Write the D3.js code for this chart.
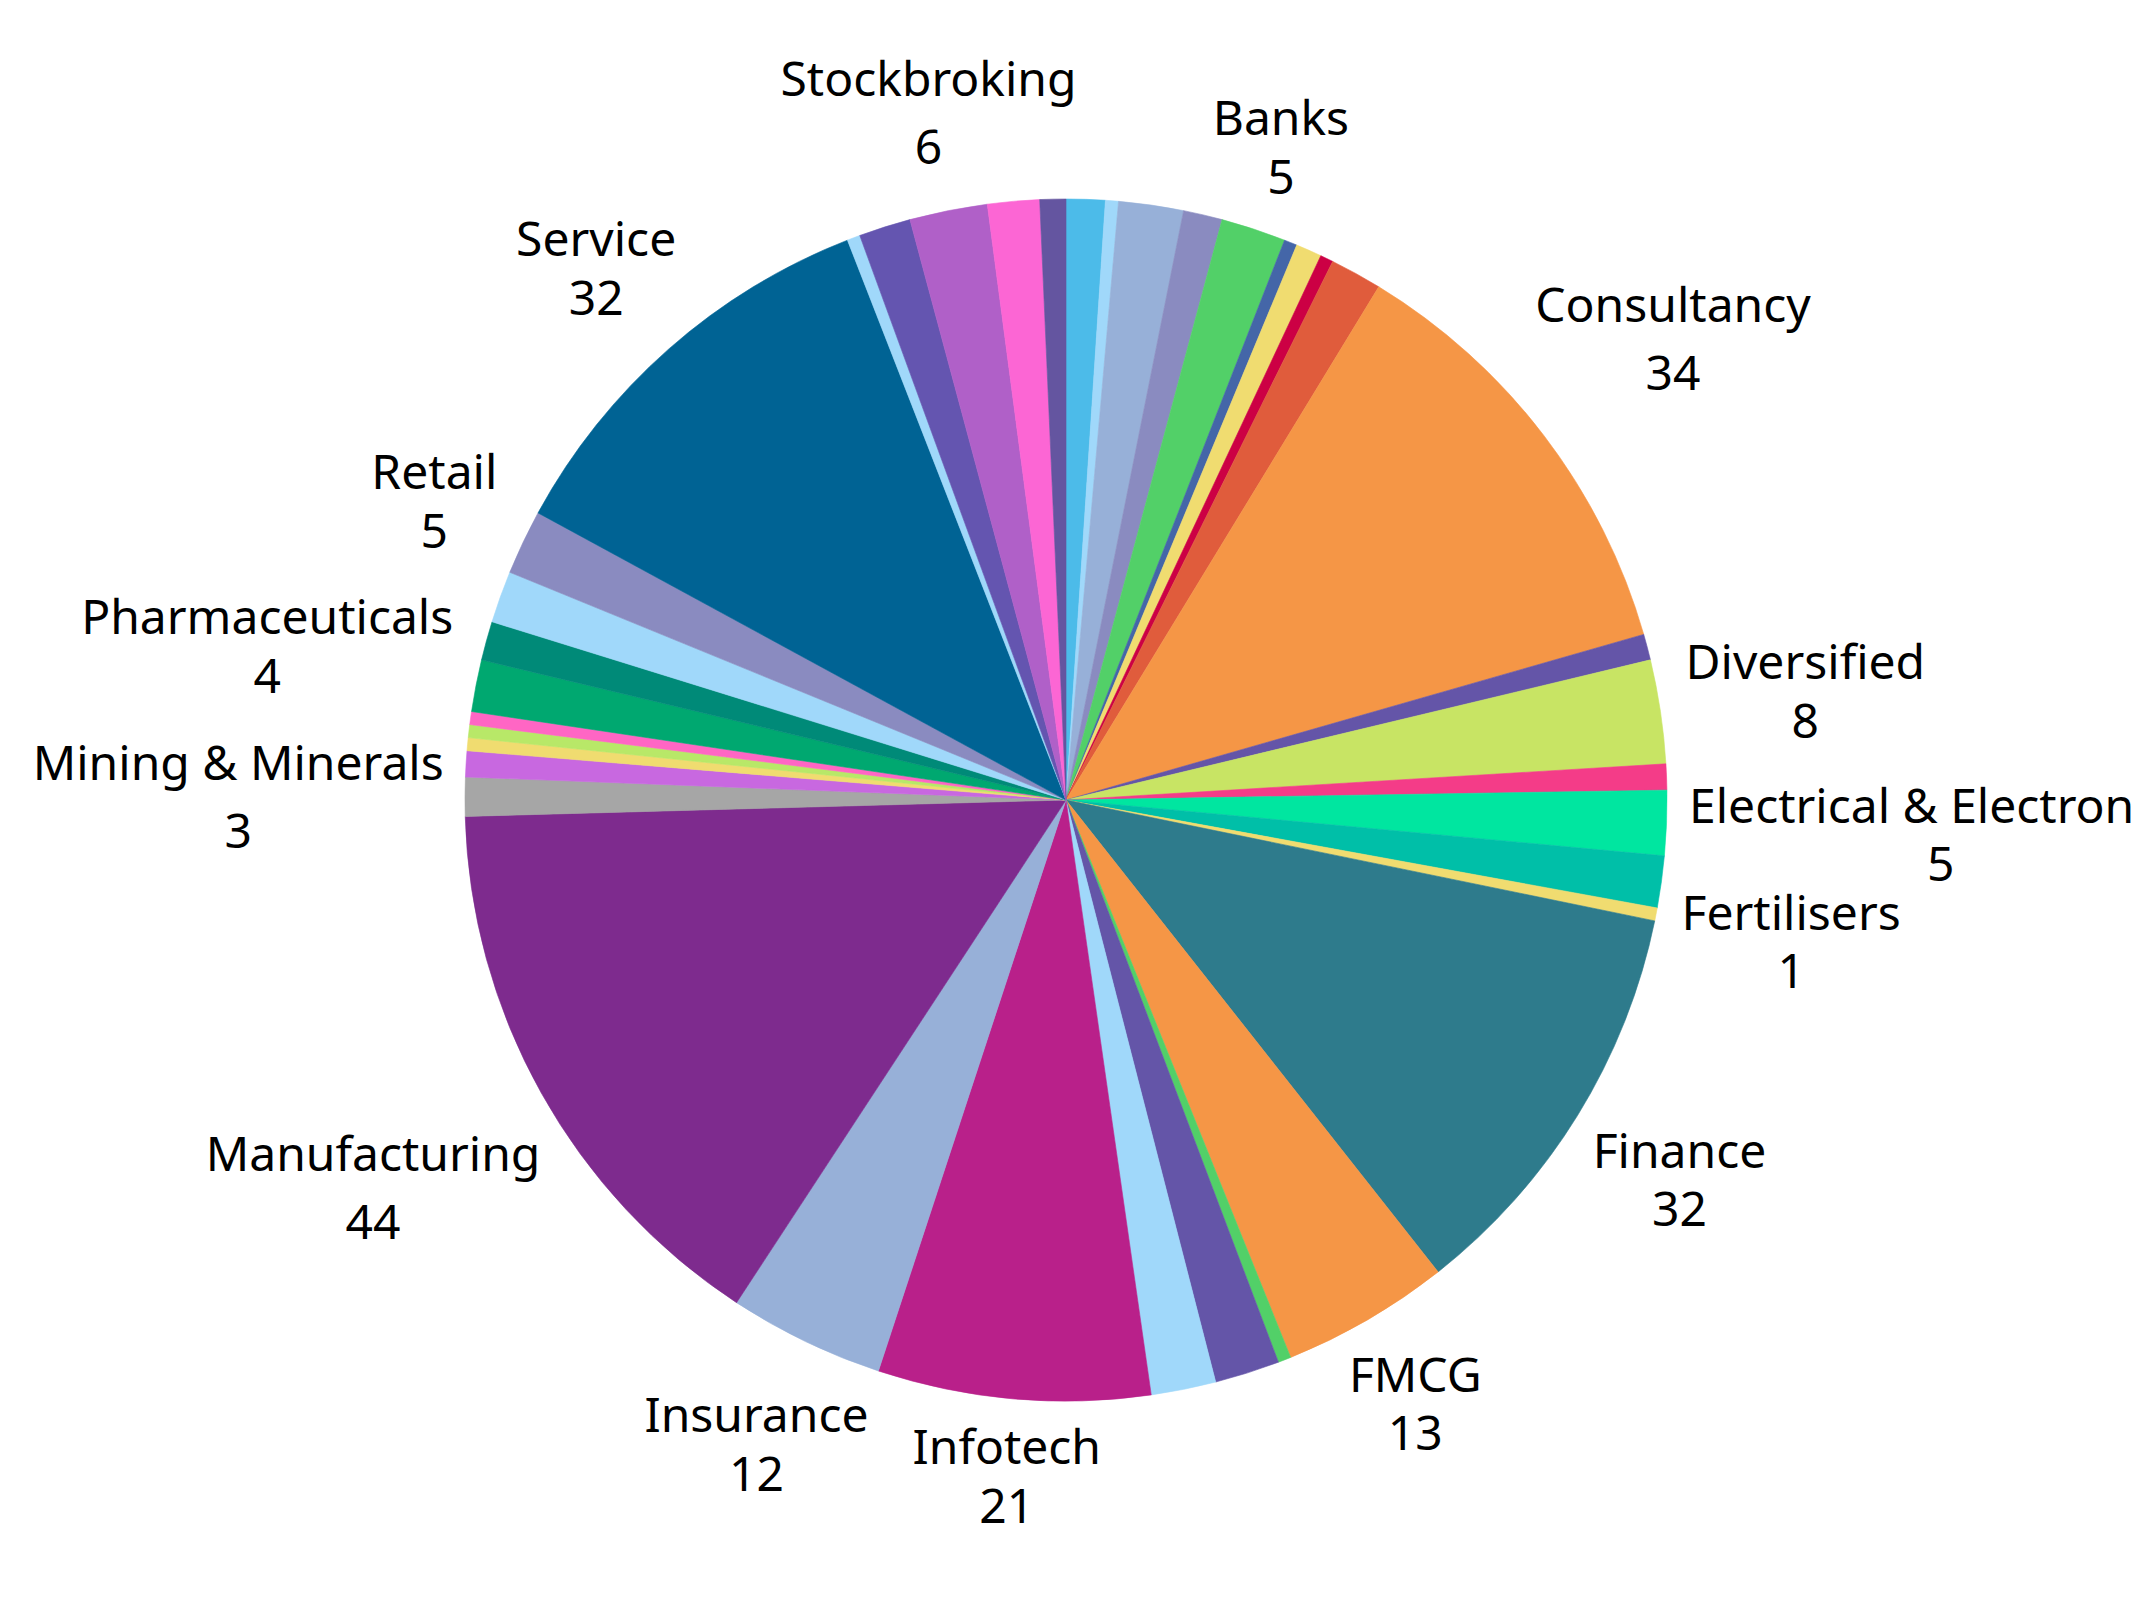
<!DOCTYPE html>
<html>
<head>
<meta charset="utf-8">
<script src="https://cdn.jsdelivr.net/npm/d3@7"></script>
<style>
  html, body { margin: 0; padding: 0; background: #ffffff; }
  svg { display: block; }
</style>
</head>
<body>
<svg id="chart" width="2134" height="1600"></svg>
<script>
// Slices in clockwise order starting at 12 o'clock.
// Slices whose name is not printed in the reference are named "Unlabelled n".
const categories = [
  "Unlabelled 1", "Unlabelled 2", "Unlabelled 3", "Unlabelled 4", "Banks",
  "Unlabelled 5", "Unlabelled 6", "Unlabelled 7", "Unlabelled 8", "Consultancy",
  "Unlabelled 9", "Diversified", "Unlabelled 10", "Electrical & Electronics", "Unlabelled 11",
  "Fertilisers", "Finance", "FMCG", "Unlabelled 12", "Unlabelled 13",
  "Unlabelled 14", "Infotech", "Insurance", "Manufacturing", "Mining & Minerals",
  "Unlabelled 15", "Unlabelled 16", "Unlabelled 17", "Unlabelled 18", "Pharmaceuticals",
  "Unlabelled 19", "Unlabelled 20", "Retail", "Service", "Unlabelled 21",
  "Unlabelled 22", "Stockbroking", "Unlabelled 23", "Unlabelled 24"
];
const values = [
  3, 1, 5, 3, 5,
  1, 2, 1, 4, 34,
  2, 8, 2, 5, 4,
  1, 32, 13, 1, 5,
  5, 21, 12, 44, 3,
  2, 1, 1, 1, 4,
  3, 4, 5, 32, 1,
  4, 6, 4, 2
];
const colors = [
  "#4cbbe9", "#a0d8fa", "#97b0d8", "#8a8bc0", "#52d068",
  "#4466a8", "#f0dc70", "#cc0044", "#e05c3c", "#f59646",
  "#6455a8", "#c8e464", "#f43c88", "#00e6a0", "#00bfa8",
  "#f0dc70", "#2e7b8c", "#f59646", "#52d068", "#6455a8",
  "#a0d8fa", "#b9208a", "#97b0d8", "#7e2b8e", "#a6a6a6",
  "#c868e0", "#f0dc70", "#b8e868", "#ff66c4", "#00a870",
  "#008a78", "#a0d8fa", "#8a8bc0", "#006394", "#a0d8fa",
  "#6455b0", "#b060c8", "#fc66d4", "#6455a0"
];
// Categories whose label is printed in the reference.
const labelledCategories = [
  "Banks", "Consultancy", "Diversified", "Electrical & Electronics", "Fertilisers",
  "Finance", "FMCG", "Infotech", "Insurance", "Manufacturing",
  "Mining & Minerals", "Pharmaceuticals", "Retail", "Service", "Stockbroking"
];
// Labels drawn with a slightly looser line gap in the reference.
const looseLabels = ["Stockbroking", "Consultancy", "Manufacturing", "Mining & Minerals"];

const data = categories.map((c, i) => ({ name: c, value: values[i], color: colors[i] }));

const W = 2134, H = 1600;
const cx = 1066, cy = 800, R = 601;
const fontSize = 48;
const pad = 21;

const svg = d3.select("#chart");
svg.append("rect").attr("width", W).attr("height", H).attr("fill", "#ffffff");

const g = svg.append("g").attr("transform", `translate(${cx},${cy})`);

const pie = d3.pie().sort(null).value(d => d.value).startAngle(0).endAngle(2 * Math.PI);
const arc = d3.arc().innerRadius(0).outerRadius(R);
const arcs = pie(data);

g.selectAll("path.slice")
  .data(arcs)
  .join("path")
  .attr("class", "slice")
  .attr("d", arc)
  .attr("fill", d => d.data.color)
  .attr("stroke", d => d.data.color)
  .attr("stroke-width", 0.6);

const labelled = new Set(labelledCategories);
const loose = new Set(looseLabels);

const labels = g.selectAll("g.label")
  .data(arcs.filter(d => labelled.has(d.data.name)))
  .join("g")
  .attr("class", "label");

labels.each(function(d) {
  const grp = d3.select(this);
  const gap = loose.has(d.data.name) ? 68 : 58.5;
  const t1 = grp.append("text")
    .attr("text-anchor", "middle")
    .attr("dominant-baseline", "central")
    .attr("y", -gap / 2)
    .attr("font-family", "'Noto Sans', sans-serif")
    .attr("font-size", fontSize)
    .attr("fill", "#000")
    .text(d.data.name);
  const t2 = grp.append("text")
    .attr("text-anchor", "middle")
    .attr("dominant-baseline", "central")
    .attr("y", gap / 2)
    .attr("font-family", "'Noto Sans', sans-serif")
    .attr("font-size", fontSize)
    .attr("fill", "#000")
    .text(d3.format("d")(d.data.value));
  const w = Math.max(t1.node().getComputedTextLength(), t2.node().getComputedTextLength()) / 2;
  const h = gap / 2 + fontSize * 0.38;
  const a = (d.startAngle + d.endAngle) / 2;
  const ux = Math.sin(a), uy = -Math.cos(a);
  const dist = R + pad + Math.abs(ux) * w + Math.abs(uy) * h;
  grp.attr("transform", `translate(${ux * dist},${uy * dist})`);
});
</script>
</body>
</html>
